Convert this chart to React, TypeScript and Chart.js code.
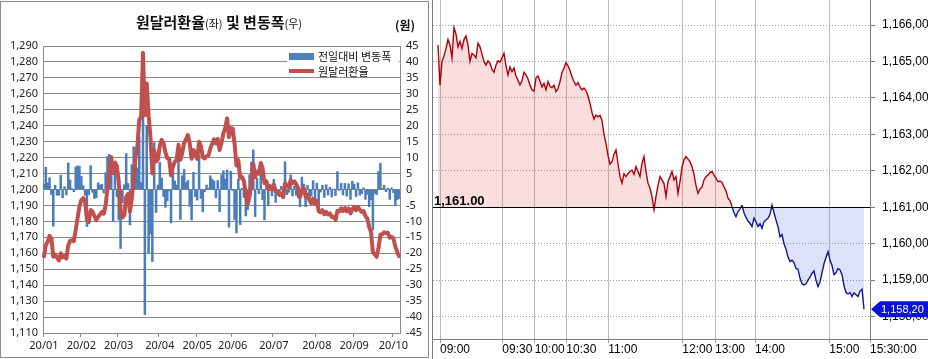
import React, { useEffect, useRef } from "react";
import { Chart, registerables } from "chart.js";

Chart.register(...registerables);

// ---------- Left panel data (daily, 2020/01 ~ 2020/10) ----------
const monthLabels = ["20/01", "20/02", "20/03", "20/04", "20/05", "20/06", "20/07", "20/08", "20/09", "20/10"];
const monthTradingDays = [20, 20, 22, 20, 19, 22, 23, 20, 21, 4];

const fxRate = [
  // Jan
  1158.1, 1165.1, 1167.2, 1170.9, 1169.3, 1157.8, 1159.1, 1157.3, 1155.5, 1160.0,
  1157.4, 1158.3, 1156.6, 1164.9, 1167.9, 1168.2, 1167.5, 1174.6, 1182.0, 1189.3,
  // Feb
  1193.4, 1194.6, 1192.8, 1181.2, 1179.6, 1187.1, 1186.2, 1183.4, 1180.8, 1182.9,
  1184.3, 1185.9, 1184.8, 1190.1, 1200.4, 1211.4, 1220.3, 1210.3, 1216.9, 1214.7,
  // Mar
  1205.2, 1186.7, 1182.5, 1184.0, 1195.3, 1197.2, 1186.1, 1193.9, 1207.3, 1220.3,
  1227.1, 1243.5, 1245.7, 1285.7, 1246.5, 1266.5, 1246.6, 1232.7, 1210.1, 1224.8,
  1217.6, 1219.0,
  // Apr
  1227.5, 1231.1, 1228.9, 1223.3, 1219.7, 1219.3, 1208.8, 1214.5, 1217.2, 1218.6,
  1228.0, 1218.6, 1222.9, 1229.2, 1231.4, 1234.2, 1228.9, 1219.3, 1224.7, 1222.5,
  // May
  1219.2, 1230.0, 1227.2, 1220.2, 1219.5, 1220.9, 1221.3, 1225.6, 1228.8, 1231.5,
  1228.9, 1231.7, 1224.7, 1229.3, 1235.2, 1238.5, 1244.6, 1232.8, 1238.5,
  // Jun
  1238.2, 1228.7, 1215.1, 1218.4, 1207.4, 1207.8, 1205.3, 1197.0, 1190.7, 1195.3,
  1203.9, 1216.3, 1207.8, 1211.3, 1210.0, 1216.6, 1213.4, 1203.9, 1205.2, 1200.1,
  1201.8, 1199.8,
  // Jul
  1203.0, 1199.0, 1198.7, 1196.6, 1197.6, 1195.2, 1203.9, 1202.3, 1201.4, 1206.0,
  1204.0, 1205.1, 1203.3, 1200.7, 1195.3, 1199.2, 1200.9, 1195.5, 1196.8, 1193.4,
  1191.3, 1194.1, 1191.0,
  // Aug
  1193.0, 1186.5, 1185.7, 1187.0, 1184.5, 1186.0, 1184.3, 1185.0, 1182.7, 1182.9,
  1181.0, 1186.6, 1186.3, 1188.2, 1186.5, 1188.4, 1186.3, 1188.1, 1185.0, 1187.6,
  // Sep
  1189.2, 1187.0, 1189.1, 1187.3, 1186.0, 1186.5, 1183.4, 1181.9, 1176.5, 1173.3,
  1160.6, 1159.4, 1157.8, 1163.4, 1171.6, 1171.9, 1173.2, 1172.5, 1172.9, 1169.8,
  1170.3,
  // Oct
  1169.3, 1164.2, 1161.0, 1158.2,
];

const dailyChange = [
  // Jan
  1.7, 7.0, 2.1, 3.7, -1.6, -11.5, 1.3, -1.8, -1.8, 4.5,
  -2.6, 0.9, -1.7, 8.3, 3.0, 0.3, -0.7, 7.1, 7.4, 7.3,
  // Feb
  4.1, 1.2, -1.8, -11.6, -1.6, 7.5, -0.9, -2.8, -2.6, 2.1,
  1.4, 1.6, -1.1, 5.3, 10.3, 11.0, 8.9, -10.0, 6.6, -2.2,
  // Mar
  -9.5, -18.5, -4.2, 1.5, 11.3, 1.9, -11.1, 7.8, 13.4, 13.0,
  6.8, 16.4, 2.2, 40.0, -39.2, 20.0, -19.9, -13.9, -22.6, 14.7,
  -7.2, 1.4,
  // Apr
  8.5, 3.6, -2.2, -5.6, -3.6, -0.4, -10.5, 5.7, 2.7, 1.4,
  9.4, -9.4, 4.3, 6.3, 2.2, 2.8, -5.3, -9.6, 5.4, -2.2,
  // May
  -3.3, 10.8, -2.8, -7.0, -0.7, 1.4, 0.4, 4.3, 3.2, 2.7,
  -2.6, 2.8, -7.0, 4.6, 5.9, 3.3, 6.1, -11.8, 5.7,
  // Jun
  -0.3, -9.5, -13.6, 3.3, -11.0, 0.4, -2.5, -8.3, -6.3, 4.6,
  8.6, 12.4, -8.5, 3.5, -1.3, 6.6, -3.2, -9.5, 1.3, -5.1,
  1.7, -2.0,
  // Jul
  3.2, -4.0, -0.3, -2.1, 1.0, -2.4, 8.7, -1.6, -0.9, 4.6,
  -2.0, 1.1, -1.8, -2.6, -5.4, 3.9, 1.7, -5.4, 1.3, -3.4,
  -2.1, 2.8, -3.1,
  // Aug
  2.0, -6.5, -0.8, 1.3, -2.5, 1.5, -1.7, 0.7, -2.3, 0.2,
  -1.9, 5.6, -0.3, 1.9, -1.7, 1.9, -2.1, 1.8, -3.1, 2.6,
  // Sep
  1.6, -2.2, 2.1, -1.8, -1.3, 0.5, -3.1, -1.5, -5.4, -3.2,
  -12.7, -1.2, -1.6, 5.6, 8.2, 0.3, 1.3, -0.7, 0.4, -3.1,
  0.5,
  // Oct
  -1.0, -5.1, -3.2, -2.8,
];

const rateAxisTicks = [1110, 1120, 1130, 1140, 1150, 1160, 1170, 1180, 1190, 1200, 1210, 1220, 1230, 1240, 1250, 1260, 1270, 1280, 1290];
const changeAxisTicks = [-45, -40, -35, -30, -25, -20, -15, -10, -5, 0, 5, 10, 15, 20, 25, 30, 35, 40, 45];

// ---------- Right panel data (intraday of the last day) ----------
const prevClose = 1161.0;
const intradayRate = [
  1165.45, 1164.35, 1165.0, 1165.15, 1165.35, 1165.6, 1165.45, 1165.1, 1165.93, 1165.75,
  1165.4, 1165.55, 1165.35, 1165.6, 1165.7, 1165.45, 1165.0, 1165.22, 1165.18, 1165.1,
  1165.5, 1165.4, 1165.2, 1165.0, 1164.9, 1165.02, 1164.95, 1164.78, 1164.7, 1164.9,
  1165.02, 1164.98, 1165.1, 1165.22, 1164.88, 1164.63, 1164.85, 1164.72, 1164.82, 1164.6,
  1164.48, 1164.36, 1164.47, 1164.7, 1164.63, 1164.52, 1164.35, 1164.22, 1164.18, 1164.55,
  1164.6, 1164.45, 1164.3, 1164.4, 1164.22, 1164.45, 1164.32, 1164.28, 1164.35, 1164.17,
  1164.25, 1164.45, 1164.7, 1164.82, 1164.97, 1164.88, 1164.75, 1164.58, 1164.45, 1164.35,
  1164.42, 1164.3, 1164.22, 1164.27, 1164.2, 1164.05, 1163.85, 1163.6, 1163.42, 1163.53,
  1163.48, 1163.52, 1163.38, 1163.0, 1162.75, 1162.42, 1162.18, 1162.25, 1162.45, 1162.57,
  1162.2, 1161.84, 1161.66, 1161.92, 1161.84, 1161.92, 1161.98, 1162.02, 1161.9, 1162.11,
  1161.98, 1161.84, 1162.2, 1162.39, 1161.98, 1161.66, 1161.52, 1161.29, 1160.93, 1161.3,
  1161.6, 1161.84, 1161.75, 1161.65, 1161.29, 1161.7, 1161.84, 1161.98, 1161.75, 1161.84,
  1161.38, 1161.7, 1162.1, 1162.3, 1162.39, 1162.32, 1162.25, 1162.11, 1161.9, 1161.6,
  1161.38, 1161.5, 1161.55, 1161.75, 1161.84, 1161.88, 1161.95, 1161.98, 1161.88, 1161.8,
  1161.7, 1161.72, 1161.68, 1161.56, 1161.45, 1161.25, 1161.18, 1161.02, 1160.85, 1160.74,
  1160.88, 1160.95, 1161.06, 1160.85, 1160.72, 1160.62, 1160.56, 1160.47, 1160.7, 1160.6,
  1160.47, 1160.55, 1160.42, 1160.6, 1160.65, 1160.7, 1160.8, 1161.06, 1160.85, 1160.65,
  1160.47, 1160.19, 1160.25, 1160.0, 1159.85, 1159.64, 1159.51, 1159.55, 1159.48, 1159.32,
  1159.3, 1159.05, 1158.9, 1158.87, 1158.9, 1159.0, 1159.08, 1159.19, 1159.25, 1159.0,
  1158.82, 1158.95, 1159.2, 1159.45, 1159.62, 1159.78, 1159.55, 1159.4, 1159.15, 1159.2,
  1159.32, 1159.28, 1159.15, 1158.85, 1158.66, 1158.62, 1158.66, 1158.55, 1158.65, 1158.6,
  1158.55, 1158.7, 1158.75, 1158.2,
];
const timeTickIndex = [1, 32.15, 48.35, 64.15, 85.15, 122.15, 138.5, 158.5, 195.65, 216];
const timeTickLabels = ["09:00", "09:30", "10:00", "10:30", "11:00", "12:00", "13:00", "14:00", "15:00", "15:30:00"];
const intradayAxisTicks = [1158, 1159, 1160, 1161, 1162, 1163, 1164, 1165, 1166];

// ---------- helpers ----------
const KR = '"Noto Sans CJK KR", "Noto Sans", sans-serif';
const NUM = '"Noto Sans", "Liberation Sans", sans-serif';
const HTS = '"Liberation Sans", Arial, sans-serif';
const GRID = "#8a8a8a";

const categories: string[] = [];
monthLabels.forEach((m, mi) => {
  for (let d = 0; d < monthTradingDays[mi]; d++) categories.push(d === 0 ? m : "");
});

const fmtHts = (v: number) =>
  v.toLocaleString("en-US", { minimumFractionDigits: 2, maximumFractionDigits: 2 }).replace(".", ",");

const leftDecor = {
  id: "leftDecor",
  afterDraw(chart: any) {
    const ctx = chart.ctx;
    ctx.save();
    // title
    const parts = [
      { t: "원달러환율", f: `bold 15px ${KR}` },
      { t: "(좌)", f: `11px ${KR}` },
      { t: " 및 변동폭", f: `bold 15px ${KR}` },
      { t: "(우)", f: `11px ${KR}` },
    ];
    let total = 0;
    parts.forEach((p) => {
      ctx.font = p.f;
      total += ctx.measureText(p.t).width;
    });
    let x = 219 - total / 2;
    ctx.fillStyle = "#111";
    ctx.textBaseline = "alphabetic";
    ctx.textAlign = "left";
    parts.forEach((p) => {
      ctx.font = p.f;
      ctx.fillText(p.t, x, 28);
      x += ctx.measureText(p.t).width;
    });
    ctx.font = `bold 12px ${KR}`;
    ctx.fillText("(원)", 395, 30);

    // legend
    ctx.fillStyle = "#fff";
    ctx.fillRect(287, 50, 112, 27);
    ctx.fillStyle = "#4f81bd";
    ctx.fillRect(289, 53, 25, 7);
    ctx.strokeStyle = "#c0504d";
    ctx.lineWidth = 4;
    ctx.beginPath();
    ctx.moveTo(289, 71);
    ctx.lineTo(314, 71);
    ctx.stroke();
    ctx.fillStyle = "#111";
    ctx.font = `11px ${KR}`;
    ctx.textBaseline = "middle";
    ctx.fillText("전일대비 변동폭", 318, 57);
    ctx.fillText("원달러환율", 318, 72);

    // frame
    ctx.strokeStyle = "#8c8c8c";
    ctx.lineWidth = 1;
    ctx.strokeRect(0.5, 1.5, 428, 356);
    ctx.restore();
  },
};

const rightDecor = {
  id: "rightDecor",
  afterDraw(chart: any) {
    const ctx = chart.ctx;
    const { left, right, bottom } = chart.chartArea;
    const ys = chart.scales.y;
    ctx.save();
    // previous-close base line
    const by = Math.round(ys.getPixelForValue(prevClose)) + 0.5;
    ctx.strokeStyle = "#000";
    ctx.lineWidth = 1;
    ctx.beginPath();
    ctx.moveTo(left, by);
    ctx.lineTo(right, by);
    ctx.stroke();
    ctx.font = `bold 13px ${HTS}`;
    ctx.fillStyle = "#000";
    ctx.textAlign = "left";
    ctx.textBaseline = "alphabetic";
    ctx.fillText(prevClose.toLocaleString("en-US", { minimumFractionDigits: 2 }), left + 1, by - 3);

    // panel borders
    ctx.strokeStyle = "#7a7a7a";
    ctx.beginPath();
    ctx.moveTo(left - 0.5, 0);
    ctx.lineTo(left - 0.5, chart.height);
    ctx.moveTo(left, Math.round(bottom) + 0.5);
    ctx.lineTo(chart.width, Math.round(bottom) + 0.5);
    ctx.stroke();

    // last value marker
    const last = intradayRate[intradayRate.length - 1];
    const ly = ys.getPixelForValue(last);
    const x0 = right + 1;
    ctx.fillStyle = "#0a12d6";
    ctx.beginPath();
    ctx.moveTo(x0, ly);
    ctx.lineTo(x0 + 9, ly - 8);
    ctx.lineTo(chart.width, ly - 8);
    ctx.lineTo(chart.width, ly + 8);
    ctx.lineTo(x0 + 9, ly + 8);
    ctx.closePath();
    ctx.fill();
    ctx.fillStyle = "#fff";
    ctx.font = `11px ${HTS}`;
    ctx.textBaseline = "middle";
    ctx.fillText(fmtHts(last), x0 + 10, ly + 1);
    ctx.restore();
  },
};

export default function App() {
  const leftRef = useRef<HTMLCanvasElement>(null);
  const rightRef = useRef<HTMLCanvasElement>(null);

  useEffect(() => {
    const left = new Chart(leftRef.current as HTMLCanvasElement, {
      type: "bar",
      data: {
        labels: categories,
        datasets: [
          {
            type: "line",
            label: "원달러환율",
            data: fxRate,
            yAxisID: "y",
            borderColor: "#c0504d",
            borderWidth: 4,
            pointRadius: 0,
            tension: 0,
            borderJoinStyle: "round",
            borderCapStyle: "round",
          } as any,
          {
            type: "bar",
            label: "전일대비 변동폭",
            data: dailyChange,
            yAxisID: "y2",
            backgroundColor: "#4a7dbb",
            barPercentage: 1,
            categoryPercentage: 1,
          },
        ],
      },
      options: {
        responsive: false,
        animation: false,
        events: [],
        layout: { padding: { top: 46, left: 0, right: 0, bottom: 0 } },
        plugins: { legend: { display: false }, tooltip: { enabled: false } },
        scales: {
          x: {
            type: "category",
            offset: true,
            grid: {
              offset: true,
              drawOnChartArea: false,
              drawTicks: true,
              tickLength: 4,
              tickColor: (c: any) => (categories[c.index] ? GRID : "rgba(0,0,0,0)"),
            },
            border: { color: GRID },
            ticks: {
              autoSkip: false,
              maxRotation: 0,
              minRotation: 0,
              padding: 2,
              color: "#222",
              font: { family: NUM, size: 11 },
            },
            afterFit: (s: any) => {
              s.height = 26;
              s.paddingLeft = 0;
              s.paddingRight = 0;
            },
          },
          y: {
            position: "left",
            min: 1110,
            max: 1290,
            bounds: "data",
            afterBuildTicks: (s: any) => {
              s.ticks = rateAxisTicks.map((v) => ({ value: v }));
            },
            grid: { color: GRID, drawTicks: false },
            border: { color: GRID },
            ticks: {
              autoSkip: false,
              padding: 5,
              color: "#222",
              font: { family: NUM, size: 11 },
              callback: (v: any) => Number(v).toLocaleString("en-US"),
            },
            afterFit: (s: any) => {
              s.width = 43;
              s.paddingTop = 0;
              s.paddingBottom = 0;
            },
          },
          y2: {
            position: "right",
            min: -45,
            max: 45,
            bounds: "data",
            afterBuildTicks: (s: any) => {
              s.ticks = changeAxisTicks.map((v) => ({ value: v }));
            },
            grid: { drawOnChartArea: false, drawTicks: false },
            border: { color: GRID },
            ticks: { autoSkip: false, padding: 6, color: "#222", font: { family: NUM, size: 11 } },
            afterFit: (s: any) => {
              s.width = 30;
              s.paddingTop = 0;
              s.paddingBottom = 0;
            },
          },
        },
      } as any,
      plugins: [leftDecor],
    });

    const right = new Chart(rightRef.current as HTMLCanvasElement, {
      type: "line",
      data: {
        datasets: [
          {
            data: intradayRate.map((v, i) => ({ x: i, y: v })),
            borderColor: "#b0000c",
            borderWidth: 1.4,
            pointRadius: 0,
            tension: 0,
            fill: {
              target: { value: prevClose },
              above: "rgba(232, 90, 90, 0.2)",
              below: "rgba(80, 100, 225, 0.19)",
            },
            segment: {
              borderColor: (c: any) =>
                (c.p0.parsed.y + c.p1.parsed.y) / 2 >= prevClose ? "#b0000c" : "#10188c",
            },
          } as any,
        ],
      },
      options: {
        responsive: false,
        animation: false,
        events: [],
        layout: { padding: { top: 0, left: 3, right: 0, bottom: 0 } },
        plugins: { legend: { display: false }, tooltip: { enabled: false } },
        scales: {
          x: {
            type: "linear",
            min: -2.5,
            max: 216,
            bounds: "data",
            afterBuildTicks: (s: any) => {
              s.ticks = timeTickIndex.map((v) => ({ value: v }));
            },
            grid: { color: "#b9b9b9", tickLength: 4, tickColor: "#9a9a9a" },
            border: { display: false },
            ticks: {
              align: "start",
              autoSkip: false,
              maxRotation: 0,
              minRotation: 0,
              padding: -1,
              color: "#000",
              font: { family: HTS, size: 12 },
              callback: (_v: any, i: number) => timeTickLabels[i],
            },
            afterFit: (s: any) => {
              s.height = 20;
              s.paddingLeft = 0;
              s.paddingRight = 0;
            },
          },
          y: {
            position: "right",
            min: 1157.385,
            max: 1166.686,
            bounds: "data",
            afterBuildTicks: (s: any) => {
              s.ticks = intradayAxisTicks.map((v) => ({ value: v }));
            },
            grid: { color: "#9c9c9c", tickLength: 5, tickColor: "#7a7a7a" },
            border: { color: "#7a7a7a", dash: [1, 2] },
            ticks: {
              autoSkip: false,
              padding: 7,
              color: "#000",
              font: { family: HTS, size: 12 },
              callback: (v: any) => fmtHts(Number(v)),
            },
            afterFit: (s: any) => {
              s.width = 58;
              s.paddingTop = 0;
              s.paddingBottom = 0;
            },
          },
        },
      } as any,
      plugins: [rightDecor],
    });

    return () => {
      left.destroy();
      right.destroy();
    };
  }, []);

  return (
    <div style={{ position: "absolute", left: 0, top: 0, width: 928, height: 359, background: "#fff", overflow: "hidden" }}>
      <canvas ref={leftRef} width={430} height={359} style={{ position: "absolute", left: 0, top: 0 }} />
      <canvas ref={rightRef} width={498} height={359} style={{ position: "absolute", left: 430, top: 0 }} />
    </div>
  );
}
